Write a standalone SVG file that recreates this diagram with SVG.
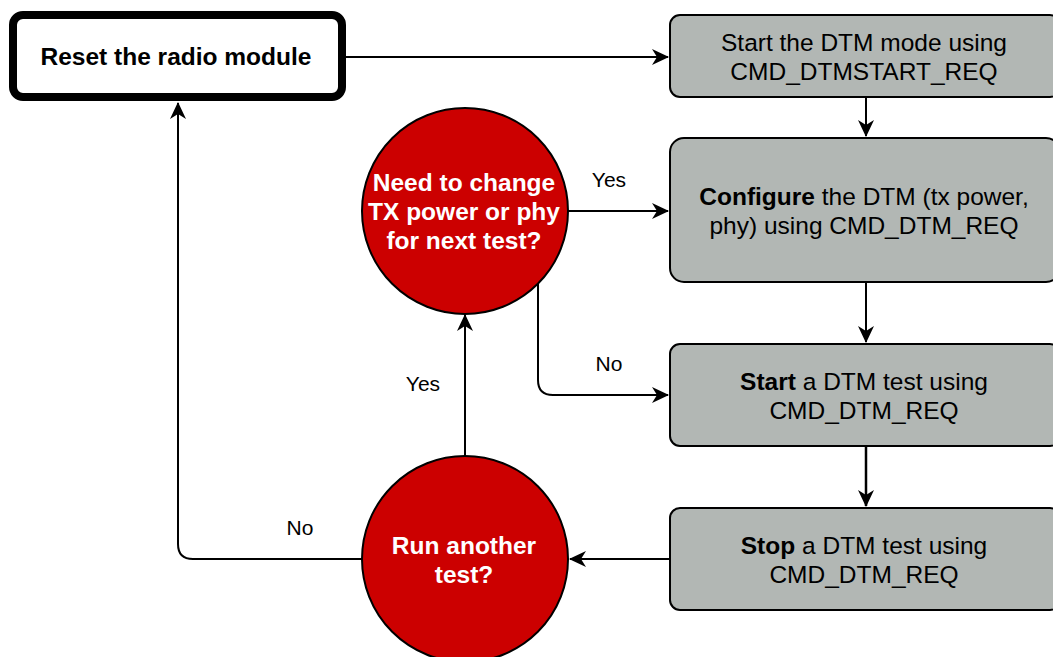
<svg xmlns="http://www.w3.org/2000/svg" width="1053" height="657" viewBox="0 0 1053 657">
<style>
.t{font-family:"Liberation Sans",Arial,sans-serif;font-size:24.5px;text-anchor:middle;fill:#000}
.w{fill:#fff;font-weight:bold}
.b{font-weight:bold}
.box{fill:#b2b7b4;stroke:#000;stroke-width:2}
.dec{fill:#cc0000;stroke:#000;stroke-width:2}
.c{fill:none;stroke:#000;stroke-width:2}
.lbl{font-family:"Liberation Sans",Arial,sans-serif;font-size:21px;text-anchor:middle;fill:#000}
</style>
<defs>
<marker id="a" markerUnits="userSpaceOnUse" markerWidth="18" markerHeight="18" viewBox="0 0 18 18" refX="16" refY="9" orient="auto">
<path d="M0,1 L17,9 L0,17 L5,9 Z" fill="#000"/>
</marker>
</defs>
<rect width="1053" height="657" fill="#fff"/>
<g id="connectors">
<path class="c" d="M346,57 H668" marker-end="url(#a)"/>
<path class="c" d="M866,97 V136" marker-end="url(#a)"/>
<path class="c" d="M866,282 V342" marker-end="url(#a)"/>
<path class="c" d="M866,446 V506" marker-end="url(#a)" style="stroke-width:2.5"/>
<path class="c" d="M568,211 H668" marker-end="url(#a)"/>
<path class="c" d="M538,283 V380 Q538,395 553,395 H668" marker-end="url(#a)"/>
<path class="c" d="M465,456 V315" marker-end="url(#a)"/>
<path class="c" d="M670,559 H570" marker-end="url(#a)"/>
<path class="c" d="M362,559 H193 Q178,559 178,544 V103" marker-end="url(#a)"/>
<text class="lbl" x="609" y="187">Yes</text>
<text class="lbl" x="609" y="371">No</text>
<text class="lbl" x="423" y="391">Yes</text>
<text class="lbl" x="300" y="535">No</text>
</g>
<g id="reset">
<rect x="13" y="15" width="329" height="82" rx="10" fill="#fff" stroke="#000" stroke-width="8"/>
<text class="t b" x="176" y="65">Reset the radio module</text>
</g>
<g id="start-dtm">
<rect class="box" x="670" y="15" width="390" height="82" rx="10"/>
<text class="t" x="864" y="51">Start the DTM mode using</text>
<text class="t" x="864" y="80">CMD_DTMSTART_REQ</text>
</g>
<g id="configure">
<rect class="box" x="670" y="138" width="390" height="144" rx="14"/>
<text class="t" x="864" y="205"><tspan class="b">Configure</tspan> the DTM (tx power,</text>
<text class="t" x="864" y="234">phy) using CMD_DTM_REQ</text>
</g>
<g id="start-test">
<rect class="box" x="670" y="344" width="390" height="102" rx="10"/>
<text class="t" x="864" y="390"><tspan class="b">Start</tspan> a DTM test using</text>
<text class="t" x="864" y="419">CMD_DTM_REQ</text>
</g>
<g id="stop-test">
<rect class="box" x="670" y="508" width="390" height="102" rx="10"/>
<text class="t" x="864" y="554"><tspan class="b">Stop</tspan> a DTM test using</text>
<text class="t" x="864" y="583">CMD_DTM_REQ</text>
</g>
<g id="need-change">
<circle class="dec" cx="465" cy="211" r="103"/>
<text class="t w" x="464" y="191">Need to change</text>
<text class="t w" x="464" y="220">TX power or phy</text>
<text class="t w" x="464" y="249">for next test?</text>
</g>
<g id="run-another">
<circle class="dec" cx="465" cy="559" r="103"/>
<text class="t w" x="464" y="554">Run another</text>
<text class="t w" x="464" y="583">test?</text>
</g>
</svg>
